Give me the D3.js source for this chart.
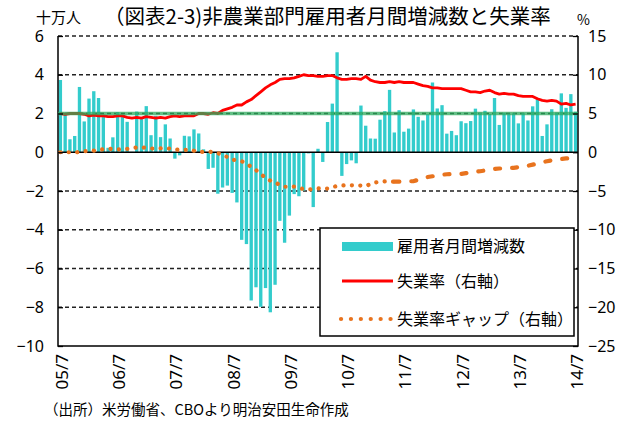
<!DOCTYPE html>
<html lang="ja">
<head>
<meta charset="UTF-8">
<title>非農業部門雇用者月間増減数と失業率</title>
<script src="https://d3js.org/d3.v7.min.js"></script>
<style>
    body { margin: 0; background: #fff; font-family: "Noto Sans CJK JP", sans-serif; }
    svg { display: block; }
    .num { font-family: "Liberation Sans Narrow", "Noto Sans", sans-serif; font-size: 16px; fill: #000; }
</style>
</head>
<body>
<div id="container"></div>
<script>
// 05/7 - 14/7, monthly
const months = d3.timeMonth.range(new Date(2005, 6, 1), new Date(2014, 7, 1));
const xTickLabels = ["05/7", "06/7", "07/7", "08/7", "09/7", "10/7", "11/7", "12/7", "13/7", "14/7"];
const leftTicks = [6, 4, 2, 0, -2, -4, -6, -8, -10];
const rightTicks = [15, 10, 5, 0, -5, -10, -15, -20, -25];

// 雇用者月間増減数 (十万人)
const payrolls = [
    3.73, 1.95, 0.67, 0.84, 3.37, 1.59,
    2.77, 3.15, 2.80, 1.82, 0.23, 0.77, 2.07, 1.84, 1.57, 0.02, 2.10, 1.71,
    2.38, 0.88, 1.88, 0.78, 1.44, 0.71, -0.33, -0.16, 0.85, 0.82, 1.18, 0.97,
    0.15, -0.86, -0.80, -2.14, -1.82, -1.72, -2.10, -2.59, -4.52, -4.74, -7.65, -6.97,
    -7.98, -7.01, -8.26, -6.84, -3.54, -4.67, -3.27, -2.16, -2.27, -1.98, -0.06, -2.83,
    0.18, -0.50, 1.56, 2.51, 5.16, -1.22, -0.61, -0.42, -0.57, 2.41, 1.37, 0.71,
    0.70, 1.68, 2.12, 3.22, 1.02, 2.17, 1.06, 1.22, 2.21, 1.83, 1.64, 1.96,
    3.60, 2.26, 2.43, 0.96, 1.10, 0.88, 1.60, 1.50, 1.61, 2.25, 2.03, 2.14,
    1.97, 2.80, 1.41, 2.03, 1.99, 2.01, 1.49, 2.02, 1.64, 2.37, 2.74, 0.84,
    1.44, 2.22, 2.03, 3.04, 2.29, 3.00, 2.09
];

// 失業率 (%)
const unemployment = [
    5.0, 4.9, 5.0, 5.0, 5.0, 4.9,
    4.7, 4.8, 4.7, 4.7, 4.6, 4.6, 4.7, 4.7, 4.5, 4.4, 4.5, 4.4,
    4.6, 4.5, 4.4, 4.5, 4.4, 4.6, 4.7, 4.6, 4.7, 4.7, 4.7, 5.0,
    5.0, 4.9, 5.1, 5.0, 5.4, 5.6, 5.8, 6.1, 6.1, 6.5, 6.8, 7.3,
    7.8, 8.3, 8.7, 9.0, 9.4, 9.5, 9.5, 9.6, 9.8, 10.0, 9.9, 9.9,
    9.8, 9.8, 9.9, 9.9, 9.6, 9.4, 9.4, 9.5, 9.5, 9.4, 9.8, 9.3,
    9.1, 9.0, 9.0, 9.1, 9.0, 9.1, 9.0, 9.0, 9.0, 8.8, 8.6, 8.5,
    8.3, 8.3, 8.2, 8.2, 8.2, 8.2, 8.2, 8.0, 7.8, 7.8, 7.7, 7.9,
    8.0, 7.7, 7.5, 7.6, 7.5, 7.5, 7.3, 7.2, 7.2, 7.2, 6.9, 6.7,
    6.6, 6.7, 6.6, 6.2, 6.3, 6.1, 6.2
];

// 失業率ギャップ (%)
const gap = [
    0, 0, 0, -0.05, 0.05, 0.13,
    0.15, 0.2, 0.3, 0.38, 0.47, 0.4, 0.35, 0.4, 0.43, 0.55, 0.6, 0.65,
    0.55, 0.47, 0.48, 0.5, 0.56, 0.45, 0.36, 0.3, 0.3, 0.32, 0.2, 0.02,
    0.05, 0.08, 0, -0.1, -0.4, -0.6, -0.95, -1.05, -1.16, -1.45, -1.9, -2.3,
    -2.8, -3.3, -3.66, -3.9, -4.2, -4.45, -4.45, -4.43, -4.6, -4.75, -4.8, -4.75,
    -4.65, -4.7, -4.68, -4.5, -4.35, -4.28, -4.26, -4.26, -4.28, -4.3, -4.38, -4.1,
    -3.9, -3.8, -3.75, -3.8, -3.8, -3.8, -3.78, -3.75, -3.74, -3.55, -3.35, -3.2,
    -3.1, -3.0, -2.9, -2.84, -2.83, -2.82, -2.8, -2.7, -2.6, -2.5, -2.45, -2.35,
    -2.25, -2.15, -2.1, -2.07, -2.04, -2.02, -1.93, -1.82, -1.74, -1.6, -1.45, -1.28,
    -1.16, -1.05, -0.96, -0.87, -0.8, -0.75, -0.7
];

// 5% reference line (right axis)
const refRate = 5;

const width = 636, height = 422;
const plotLeft = 58, plotRight = 578, plotTop = 36, plotBottom = 346;

const svg = d3.select('#container').append('svg')
    .attr('width', width)
    .attr('height', height);

const x = d3.scaleBand()
    .domain(months)
    .range([plotLeft, plotRight])
    .paddingInner(0.3)
    .paddingOuter(0.15);

const yL = d3.scaleLinear().domain([-10, 6]).range([plotBottom, plotTop]);
const yR = d3.scaleLinear().domain([-25, 15]).range([plotBottom, plotTop]);

const cx = d => x(d) + x.bandwidth() / 2;

// dashed gridlines
svg.append('g')
    .selectAll('line')
    .data(leftTicks.filter(v => v !== 0 && v !== -10))
    .enter()
    .append('line')
    .attr('x1', plotLeft)
    .attr('x2', plotRight)
    .attr('y1', d => yL(d))
    .attr('y2', d => yL(d))
    .attr('stroke', '#222')
    .attr('stroke-width', 1.3)
    .attr('stroke-dasharray', '4,3');

// bars
svg.append('g')
    .selectAll('rect')
    .data(payrolls)
    .enter()
    .append('rect')
    .attr('x', (d, i) => x(months[i]))
    .attr('width', x.bandwidth())
    .attr('y', d => yL(Math.max(0, d)))
    .attr('height', d => Math.abs(yL(d) - yL(0)))
    .attr('fill', '#33CCCC');

// zero line and frame
svg.append('line')
    .attr('x1', plotLeft).attr('x2', plotRight)
    .attr('y1', yL(0)).attr('y2', yL(0))
    .attr('stroke', '#000').attr('stroke-width', 1.5);

svg.append('path')
    .attr('d', `M${plotLeft},${plotTop}V${plotBottom}H${plotRight}V${plotTop}`)
    .attr('fill', 'none')
    .attr('stroke', '#000')
    .attr('stroke-width', 1.5);

// unemployment rate
const lineR = d3.line()
    .x((d, i) => cx(months[i]))
    .y(d => yR(d));

svg.append('path')
    .datum(unemployment)
    .attr('d', lineR)
    .attr('fill', 'none')
    .attr('stroke', '#FF0000')
    .attr('stroke-width', 2.8)
    .attr('stroke-linejoin', 'round');

// gap: dotted first, short dashes later
const gapLine = d3.line()
    .defined(d => d.on)
    .x(d => cx(months[d.i]))
    .y(d => yR(d.v));

const split = 70;
svg.append('path')
    .datum(gap.map((v, i) => ({ v: v, i: i, on: i <= split })))
    .attr('d', gapLine)
    .attr('fill', 'none')
    .attr('stroke', '#E8731E')
    .attr('stroke-width', 4.2)
    .attr('stroke-linecap', 'round')
    .attr('stroke-dasharray', '0.1,8.3');

svg.append('path')
    .datum(gap.map((v, i) => ({ v: v, i: i, on: i >= split })))
    .attr('d', gapLine)
    .attr('fill', 'none')
    .attr('stroke', '#E8731E')
    .attr('stroke-width', 4.2)
    .attr('stroke-linecap', 'round')
    .attr('stroke-dasharray', '5,12');

// 5% line
svg.append('line')
    .attr('x1', plotLeft).attr('x2', plotRight)
    .attr('y1', yR(refRate)).attr('y2', yR(refRate))
    .attr('stroke', '#2EAA5C')
    .attr('stroke-opacity', 0.75)
    .attr('stroke-width', 3.5);

// axes
const axL = svg.append('g')
    .attr('transform', `translate(${plotLeft},0)`)
    .call(d3.axisLeft(yL).tickValues(leftTicks).tickFormat(d3.format('d'))
        .tickSizeInner(-5).tickSizeOuter(0).tickPadding(14));
const axR = svg.append('g')
    .attr('transform', `translate(${plotRight},0)`)
    .call(d3.axisRight(yR).tickValues(rightTicks).tickFormat(d3.format('d'))
        .tickSizeInner(-5).tickSizeOuter(0).tickPadding(10));

[axL, axR].forEach(ax => {
    ax.select('.domain').remove();
    ax.selectAll('line').attr('stroke', '#000').attr('stroke-width', 1.3);
    ax.selectAll('text').attr('class', 'num').attr('font-family', null).attr('font-size', null)
        .text(d => d < 0 ? '\u2212' + Math.abs(d) : d);
});

// x labels (rotated)
svg.append('g')
    .selectAll('text')
    .data(xTickLabels)
    .enter()
    .append('text')
    .attr('class', 'num')
    .attr('transform', (d, i) => `translate(${cx(months[i * 12]) + 1},354) rotate(-90)`)
    .attr('text-anchor', 'end')
    .attr('dominant-baseline', 'central')
    .style('font-size', '17px')
    .text(d => d);

// titles
svg.append('text')
    .attr('x', 36).attr('y', 23)
    .attr('font-size', 15)
    .text('十万人');

svg.append('text')
    .attr('x', 104).attr('y', 24)
    .attr('font-size', 20.5)
    .text('（図表2-3)非農業部門雇用者月間増減数と失業率');

svg.append('text')
    .attr('x', 577).attr('y', 25)
    .attr('font-size', 14)
    .text('%');

svg.append('text')
    .attr('x', 44).attr('y', 415)
    .attr('font-size', 14.5)
    .text('（出所）米労働省、CBOより明治安田生命作成');

// legend
const lg = svg.append('g');
lg.append('rect')
    .attr('x', 320).attr('y', 228)
    .attr('width', 254).attr('height', 108)
    .attr('fill', '#fff')
    .attr('stroke', '#000')
    .attr('stroke-width', 1.5);

lg.append('rect')
    .attr('x', 342).attr('y', 242)
    .attr('width', 51).attr('height', 9)
    .attr('fill', '#33CCCC');

lg.append('line')
    .attr('x1', 342).attr('x2', 393)
    .attr('y1', 281).attr('y2', 281)
    .attr('stroke', '#FF0000').attr('stroke-width', 2.8);

lg.append('line')
    .attr('x1', 341).attr('x2', 392)
    .attr('y1', 319).attr('y2', 319)
    .attr('stroke', '#E8731E').attr('stroke-width', 4.2)
    .attr('stroke-linecap', 'round')
    .attr('stroke-dasharray', '0.1,9.8');

const legendText = ['雇用者月間増減数', '失業率（右軸）', '失業率ギャップ（右軸）'];
lg.selectAll('.lt')
    .data(legendText)
    .enter()
    .append('text')
    .attr('class', 'lt')
    .attr('x', 397)
    .attr('y', (d, i) => [252, 287, 325][i])
    .attr('font-size', 16)
    .text(d => d);
</script>
</body>
</html>
